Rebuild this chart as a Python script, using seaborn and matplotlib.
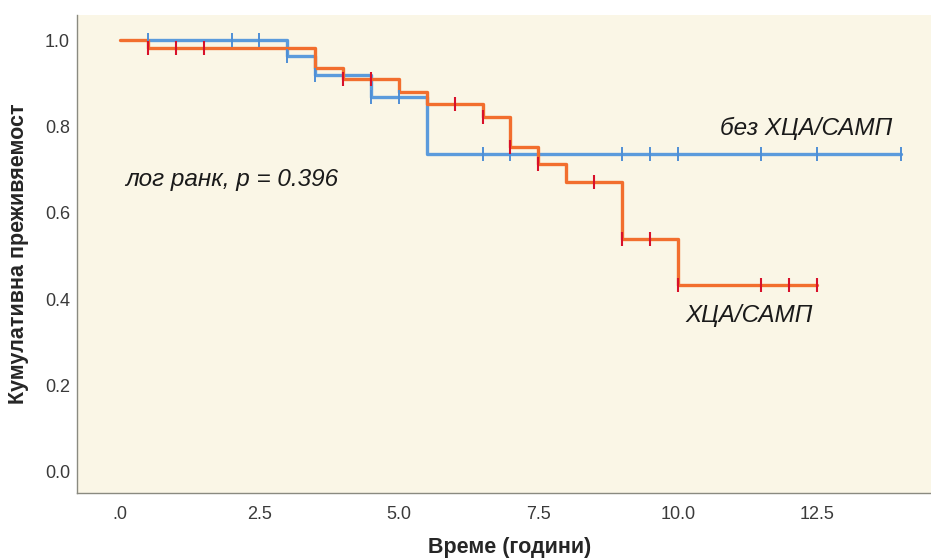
import numpy as np
import pandas as pd
import matplotlib
matplotlib.use("Agg")
from matplotlib import pyplot as plt
import seaborn as sns

# Kaplan-Meier steps
blue_times = [0.5, 3.0, 3.5, 4.5, 5.5, 14.0]
blue_surv = [1.0, 0.963, 0.919, 0.869, 0.736, 0.736]
blue_censored = [0.5, 2.0, 2.5, 3.0, 3.5, 4.5, 5.0, 6.5, 7.0, 9.0, 9.5, 10.0, 11.5, 12.5, 14.0]

orange_times = [0.0, 0.5, 3.5, 4.0, 5.0, 5.5, 6.5, 7.0, 7.5, 8.0, 9.0, 10.0, 12.5]
orange_surv = [1.0, 0.981, 0.935, 0.91, 0.88, 0.852, 0.822, 0.752, 0.713, 0.671, 0.539, 0.433, 0.433]
orange_censored = [0.5, 1.0, 1.5, 4.0, 4.5, 6.0, 6.5, 7.0, 7.5, 8.5, 9.0, 9.5, 10.0, 11.5, 12.0, 12.5]

x_ticks = [0, 2.5, 5.0, 7.5, 10.0, 12.5]
x_labels = [".0", "2.5", "5.0", "7.5", "10.0", "12.5"]
y_ticks = [0.0, 0.2, 0.4, 0.6, 0.8, 1.0]
y_labels = ["0.0", "0.2", "0.4", "0.6", "0.8", "1.0"]

BLUE = "#5b9bdc"
ORANGE = "#f26e2e"


def censor_frame(times, surv, cens):
    # survival level at each censored time (value of the step just after it)
    t = np.array(times)
    s = np.array(surv)
    idx = np.searchsorted(t, cens, side="right") - 1
    return pd.DataFrame({"t": cens, "s": s[idx]})


sns.set_theme(style="white")
plt.rcParams["font.family"] = ["Liberation Sans", "DejaVu Sans"]

fig = plt.figure(figsize=(9.31, 5.6), dpi=100)
ax = fig.add_axes([0.0827, 0.1196, 0.9173, 0.8535])
ax.set_facecolor("#faf6e6")

blue_df = pd.DataFrame({"t": blue_times, "s": blue_surv})
orange_df = pd.DataFrame({"t": orange_times, "s": orange_surv})

sns.lineplot(data=blue_df, x="t", y="s", drawstyle="steps-post", color=BLUE,
             linewidth=2.4, ax=ax, estimator=None, sort=False)
sns.lineplot(data=orange_df, x="t", y="s", drawstyle="steps-post", color=ORANGE,
             linewidth=2.4, ax=ax, estimator=None, sort=False)

sns.scatterplot(data=censor_frame(blue_times, blue_surv, blue_censored), x="t", y="s",
                marker="|", s=90, color="#4f8fd6", linewidth=1.4, ax=ax, zorder=4)
sns.scatterplot(data=censor_frame(orange_times, orange_surv, orange_censored), x="t", y="s",
                marker="|", s=90, color="#d8102a", linewidth=1.5, ax=ax, zorder=4)

ax.set_xlim(-0.77, 14.54)
ax.set_ylim(-0.049, 1.058)

ax.set_xticks(x_ticks)
ax.set_xticklabels(x_labels, fontsize=13, color="#3a3a3a")
ax.set_yticks(y_ticks)
ax.set_yticklabels(y_labels, fontsize=13, color="#3a3a3a")
ax.tick_params(axis="both", length=0)
ax.tick_params(axis="x", pad=9)
ax.tick_params(axis="y", pad=5)

for side in ["top", "right"]:
    ax.spines[side].set_visible(False)
for side in ["left", "bottom"]:
    ax.spines[side].set_color("#8a8a80")
    ax.spines[side].set_linewidth(1.0)

ax.set_xlabel("Време (години)", fontsize=15.5, fontweight="bold", va="center")
ax.xaxis.set_label_coords(0.507, -0.115)
ax.set_ylabel("Кумулативна преживяемост", fontsize=15.5, fontweight="bold", va="center")
ax.yaxis.set_label_coords(-0.069, 0.5)

ax.text(0.09, 0.676, "лог ранк, p = 0.396", fontsize=17.5, style="italic",
        va="center", ha="left", color="#1a1a1a")
ax.text(10.76, 0.796, "без ХЦА/САМП", fontsize=17.5, style="italic",
        va="center", ha="left", color="#1a1a1a")
ax.text(10.13, 0.363, "ХЦА/САМП", fontsize=17.5, style="italic",
        va="center", ha="left", color="#1a1a1a")

plt.savefig("out.png", dpi=100, facecolor="white")
